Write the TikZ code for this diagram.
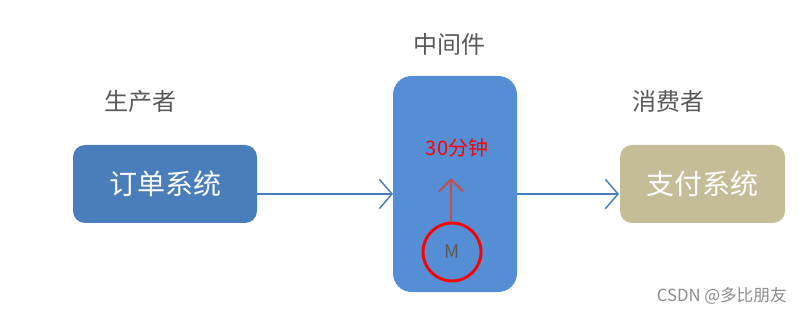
\documentclass[tikz,border=0pt]{standalone}
\usepackage{fontspec}
\setmainfont{Noto Sans CJK SC}
\usetikzlibrary{arrows.meta}
\definecolor{boxblue}{HTML}{4A7EBB}
\definecolor{midblue}{HTML}{558ED5}
\definecolor{boxtan}{HTML}{C4BD97}
\definecolor{labgray}{HTML}{595959}
\definecolor{arrred}{HTML}{C0504D}
\definecolor{wmgray}{HTML}{8C8C8C}
\tikzset{
  sysbox/.style={rectangle, rounded corners=9pt, minimum height=58.5pt, inner sep=0pt, text=white, font=\fontsize{21}{24}\selectfont},
  toplabel/.style={text=labgray, font=\fontsize{18}{20}\selectfont, inner sep=0pt},
  flow/.style={draw=boxblue, line width=1.1pt, -{Straight Barb[length=9.5pt,width=22pt,line width=1.1pt]}},
}
\begin{document}
\begin{tikzpicture}[x=0.75pt,y=-0.75pt]
\useasboundingbox (0,0) rectangle (802,313);
\node[sysbox, fill=boxblue, minimum width=138pt] (prod) at (165,184) {订单系统};
\node[rectangle, rounded corners=14pt, fill=midblue, minimum width=93pt, minimum height=162pt, inner sep=0pt] (mid) at (455,184) {};
\node[sysbox, fill=boxtan, minimum width=123.75pt] (cons) at (702.5,184) {支付系统};
\node[toplabel] (lprod) at (140,101) {生产者};
\node[toplabel] (lmid) at (449,44) {中间件};
\node[toplabel] (lcons) at (668,101) {消费者};
\node[text=red, inner sep=0pt, font=\fontsize{15}{18}\selectfont] (time) at (457,148) {30分钟};
\node[circle, draw=red, line width=2.2pt, minimum size=43.5pt, inner sep=0pt, text=labgray, font=\fontsize{14}{16}\selectfont] (m) at (452,252) {M};
\coordinate (a1) at (257,194);
\coordinate (a2) at (393,194);
\coordinate (b1) at (517,194);
\coordinate (b2) at (619,194);
\coordinate (up) at (451,178);
\draw[flow] (a1) -- (a2);
\draw[flow] (b1) -- (b2);
\draw[draw=arrred, line width=1.5pt, -{Straight Barb[length=9pt,width=18pt,line width=1.5pt]}] (m.north -| up) -- (up);
\node[text=wmgray, inner sep=0pt, font=\fontsize{12.5}{14}\selectfont, anchor=east] (wm) at (787,296) {CSDN @多比朋友};
\end{tikzpicture}
\end{document}
